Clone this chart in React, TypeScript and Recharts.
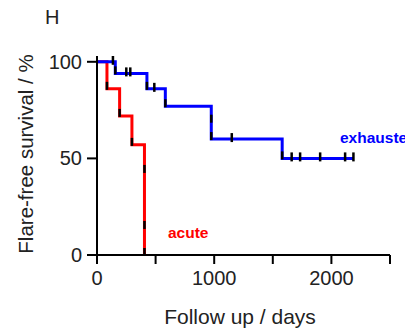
import { ComposedChart, Line, Scatter, XAxis, YAxis } from "recharts";

// Kaplan-Meier step points (day, % flare-free)
const exhaustedDays = [0, 156, 426, 583, 975, 1580, 2190];
const exhaustedSurvival = [100, 94, 86, 77, 60, 50, 50];
const acuteDays = [0, 85, 193, 298, 405];
const acuteSurvival = [100, 86, 72, 57, 0];

// censored observations (ticks on the blue curve)
const censorDays = [136, 250, 284, 489, 1150, 1661, 1733, 1904, 2117, 2188];
const censorSurvival = [100, 94, 94, 86, 60, 50, 50, 50, 50, 50];

// black marks at the foot of each drop
const eventDays = [156, 426, 583, 975, 975, 1580, 85, 193, 298, 405, 405, 405];
const eventSurvival = [94, 86, 77, 69, 60, 50, 86, 72, 57, 43, 14, 0];

const xTicks = [0, 500, 1000, 1500, 2000, 2500];
const yTicks = [0, 50, 100];

const exhausted = exhaustedDays.map((d, i) => ({ day: d, value: exhaustedSurvival[i] }));
const acute = acuteDays.map((d, i) => ({ day: d, value: acuteSurvival[i] }));
const censored = censorDays.map((d, i) => ({ day: d, value: censorSurvival[i] }));
const events = eventDays.map((d, i) => ({ day: d, value: eventSurvival[i] }));

const font = "'Liberation Sans', Arial, sans-serif";

const CensorTick = (props: any) => {
  const { cx, cy } = props;
  return <rect x={cx - 1.25} y={cy - 6} width={2.5} height={9} fill="#000" />;
};

const EventTick = (props: any) => {
  const { cx, cy } = props;
  return <rect x={cx - 1.25} y={cy - 7} width={2.5} height={8} fill="#000" />;
};

export default function App() {
  return (
    <div style={{ position: "absolute", left: 0, top: 0, width: 405, height: 331, background: "#fff" }}>
      <ComposedChart
        width={405}
        height={331}
        margin={{ top: 56, right: 15, left: 37, bottom: 36 }}
        style={{ fontFamily: font }}
      >
        <XAxis
          type="number"
          dataKey="day"
          domain={[0, 2500]}
          ticks={xTicks}
          tickFormatter={(v: number) => (v % 1000 === 0 ? String(v) : "")}
          interval={0}
          height={40}
          stroke="#000"
          strokeWidth={2}
          tickSize={9}
          tickMargin={7}
          tick={{ fill: "#222", fontSize: 20, fontFamily: font }}
          allowDataOverflow
        />
        <YAxis
          type="number"
          dataKey="value"
          domain={[0, 103]}
          ticks={yTicks}
          interval={0}
          width={60}
          stroke="#000"
          strokeWidth={2}
          tickSize={10}
          tickMargin={5}
          tick={{ fill: "#222", fontSize: 20, fontFamily: font }}
          allowDataOverflow
        />
        <Line
          data={acute}
          dataKey="value"
          type="stepAfter"
          stroke="#ff0000"
          strokeWidth={3}
          dot={false}
          isAnimationActive={false}
        />
        <Line
          data={exhausted}
          dataKey="value"
          type="stepAfter"
          stroke="#0000ff"
          strokeWidth={3}
          dot={false}
          isAnimationActive={false}
        />
        <Scatter data={events} dataKey="value" shape={EventTick} isAnimationActive={false} />
        <Scatter data={censored} dataKey="value" shape={CensorTick} isAnimationActive={false} />
      </ComposedChart>
      <svg
        width={405}
        height={331}
        style={{ position: "absolute", left: 0, top: 0, pointerEvents: "none", fontFamily: font }}
      >
        <text x={45} y={24} fontSize={20} fill="#222">H</text>
        <text
          x={0}
          y={0}
          fontSize={20.5}
          fill="#222"
          textAnchor="middle"
          transform="translate(33 154) rotate(-90)"
        >
          Flare-free survival / %
        </text>
        <text x={240} y={324} fontSize={21} fill="#222" textAnchor="middle">
          Follow up / days
        </text>
        <text x={340} y={143} fontSize={15.5} fontWeight="bold" fill="#0000ff">exhausted</text>
        <text x={168} y={238} fontSize={15.5} fontWeight="bold" fill="#ff0000">acute</text>
      </svg>
    </div>
  );
}
